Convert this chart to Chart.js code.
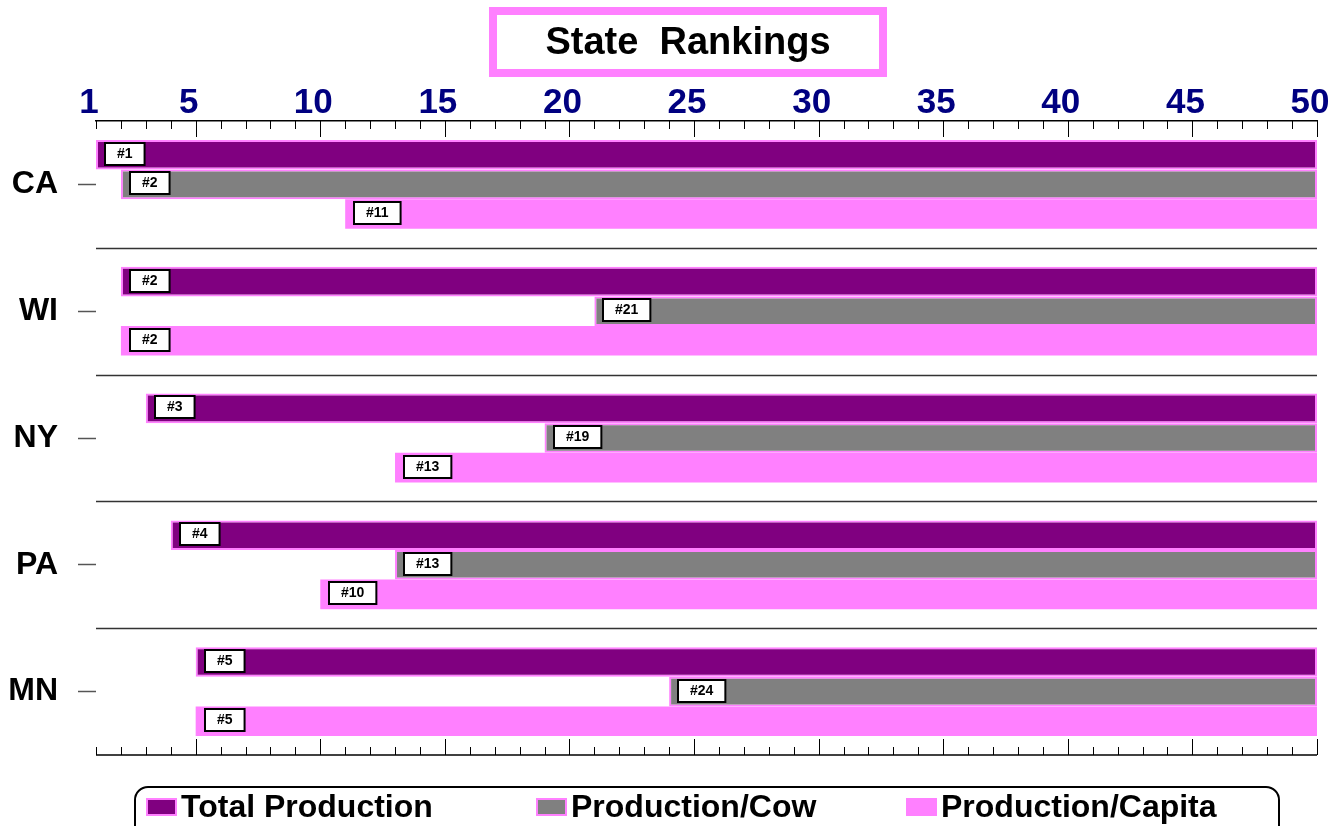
<!DOCTYPE html>
<html>
<head>
<meta charset="utf-8">
<script src="https://cdn.jsdelivr.net/npm/chart.js@4.4.1/dist/chart.umd.min.js"></script>
<style>
  html, body { margin: 0; padding: 0; background: #fff; }
  #wrap { position: relative; width: 1330px; height: 826px; overflow: hidden; }
  #legend {
    position: absolute; left: 134px; top: 786px; width: 1146px; height: 60px;
    border: 2px solid #000; border-radius: 14px; box-sizing: border-box;
    font: bold 32px "Liberation Sans", Arial, sans-serif; color: #000;
  }
  .item { position: absolute; top: 3px; height: 30px; display: flex; align-items: center; white-space: nowrap; }
  .sw { width: 27px; height: 14px; border: 2px solid; margin-right: 4px; margin-top: 2px; }
</style>
</head>
<body>
<div id="wrap">
  <canvas id="graficoRank"></canvas>
  <div id="legend"></div>
</div>
<script>
const states = ['CA', 'WI', 'NY', 'PA', 'MN'];
const totalRank = [1, 2, 3, 4, 5];
const cowRank = [2, 21, 19, 13, 24];
const capitaRank = [11, 2, 13, 10, 5];
const lastRank = 50;
const tickLabels = [1, 5, 10, 15, 20, 25, 30, 35, 40, 45, 50];
const seriesNames = ['Total Production', 'Production/Cow', 'Production/Capita'];
const seriesColors = ['#800080', '#808080', '#FF80FF'];

const FONT = '"Liberation Sans", Arial, sans-serif';

// titulo com moldura rosa
const titlePlugin = {
  id: 'titleBox',
  afterDraw(chart) {
    const c = chart.ctx;
    c.save();
    c.strokeStyle = '#FF80FF';
    c.lineWidth = 8;
    c.strokeRect(493, 11, 390, 62);
    c.fillStyle = '#000';
    c.font = 'bold 38px ' + FONT;
    c.textAlign = 'center';
    c.textBaseline = 'middle';
    c.fillText('State  Rankings', 688, 44);
    c.restore();
  }
};

// marcas do eixo (cima e baixo) e linhas separadoras
const axisPlugin = {
  id: 'axisTicks',
  beforeDatasetsDraw(chart) {
    const c = chart.ctx;
    const a = chart.chartArea;
    const x = chart.scales.x;
    const y = chart.scales.y;
    c.save();
    c.strokeStyle = '#333';
    c.lineWidth = 1.5;
    for (let i = 0; i < states.length - 1; i++) {
      const yy = Math.round((y.getPixelForValue(i) + y.getPixelForValue(i + 1)) / 2) + 0.5;
      c.beginPath();
      c.moveTo(a.left, yy);
      c.lineTo(a.right, yy);
      c.stroke();
    }
    c.strokeStyle = '#000';
    c.lineWidth = 1.5;
    c.beginPath();
    c.moveTo(a.left, a.bottom);
    c.lineTo(a.right, a.bottom);
    c.stroke();
    c.lineWidth = 1;
    for (let v = x.min; v <= x.max; v++) {
      const px = Math.round(x.getPixelForValue(v)) + 0.5;
      const len = v % 5 === 0 ? 16 : 8;
      c.beginPath();
      c.moveTo(px, a.top);
      c.lineTo(px, a.top + len);
      c.moveTo(px, a.bottom);
      c.lineTo(px, a.bottom - len);
      c.stroke();
    }
    c.restore();
  }
};

// caixinhas "#n" no inicio de cada barra
const rankLabels = {
  id: 'rankLabels',
  afterDatasetsDraw(chart) {
    const c = chart.ctx;
    c.save();
    c.font = 'bold 14px ' + FONT;
    c.textAlign = 'center';
    c.textBaseline = 'middle';
    chart.data.datasets.forEach((ds, di) => {
      const meta = chart.getDatasetMeta(di);
      meta.data.forEach((bar, i) => {
        const txt = '#' + ds.data[i][0];
        const w = c.measureText(txt).width + 24;
        const x0 = Math.round(Math.min(bar.x, bar.base)) + 9;
        const y0 = Math.round(bar.y) - 12;
        c.fillStyle = '#fff';
        c.fillRect(x0, y0, w, 22);
        c.strokeStyle = '#000';
        c.lineWidth = 2;
        c.strokeRect(x0, y0, w, 22);
        c.fillStyle = '#000';
        c.fillText(txt, x0 + w / 2, y0 + 11.5);
      });
    });
    c.restore();
  }
};

const ctx = document.getElementById('graficoRank').getContext('2d');
const grafico = new Chart(ctx, {
  type: 'bar',
  data: {
    labels: states,
    datasets: [totalRank, cowRank, capitaRank].map((ranks, k) => ({
      label: seriesNames[k],
      data: ranks.map(r => [r, lastRank]),
      backgroundColor: seriesColors[k],
      borderColor: '#FF80FF',
      borderWidth: k < 2 ? 2 : 0,
      borderSkipped: false,
      categoryPercentage: 0.7,
      barPercentage: 1.0
    }))
  },
  options: {
    indexAxis: 'y',
    responsive: true,
    maintainAspectRatio: false,
    animation: false,
    layout: { padding: { top: 86, left: 10, right: 13, bottom: 71 } },
    scales: {
      x: {
        type: 'linear',
        position: 'top',
        min: 1,
        max: lastRank,
        grid: { display: false, drawTicks: false },
        border: { display: true, color: '#000', width: 1.5 },
        ticks: {
          stepSize: 5,
          autoSkip: false,
          maxRotation: 0,
          padding: 0,
          labelOffset: -7,
          color: '#000080',
          font: { family: FONT, size: 35, weight: 'bold', lineHeight: 1 },
          callback: v => tickLabels.includes(v) ? String(v) : ''
        },
        afterFit(scale) {
          scale.paddingLeft = 0;
          scale.paddingRight = 0;
        }
      },
      y: {
        grid: { display: true, drawOnChartArea: false, offset: false, tickLength: 18, tickColor: '#555', tickWidth: 1.5 },
        border: { display: false },
        ticks: {
          padding: 20,
          color: '#000',
          font: { family: FONT, size: 32, weight: 'bold' }
        },
        afterFit(scale) {
          scale.width = 86;
        }
      }
    },
    plugins: {
      legend: { display: false },
      tooltip: { enabled: false },
      title: { display: false }
    }
  },
  plugins: [titlePlugin, axisPlugin, rankLabels]
});

// legenda montada a partir dos datasets
const lefts = [10, 400, 770];
const leg = document.getElementById('legend');
grafico.data.datasets.forEach((ds, k) => {
  const it = document.createElement('div');
  it.className = 'item';
  it.style.left = lefts[k] + 'px';
  const sw = document.createElement('span');
  sw.className = 'sw';
  sw.style.background = ds.backgroundColor;
  sw.style.borderColor = '#FF80FF';
  it.appendChild(sw);
  it.appendChild(document.createTextNode(ds.label));
  leg.appendChild(it);
});
</script>
</body>
</html>
